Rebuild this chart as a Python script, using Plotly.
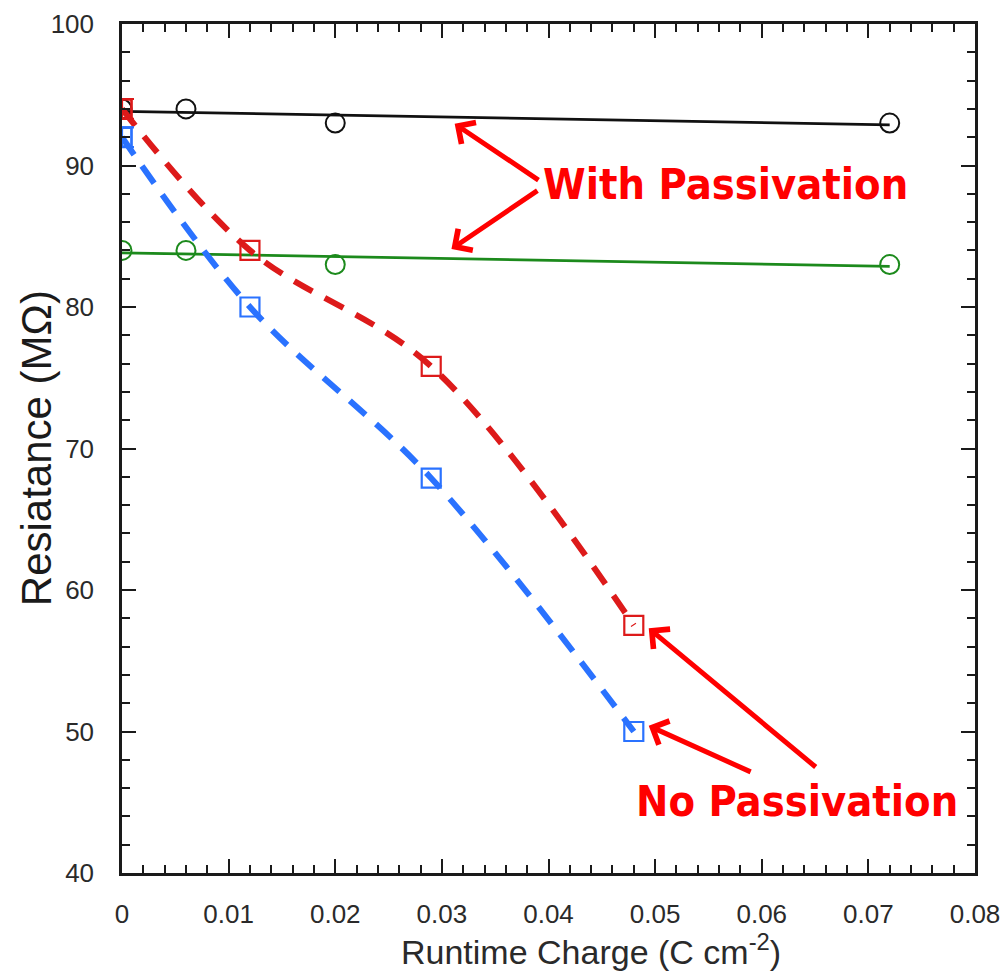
import numpy as np
import plotly.graph_objects as go

# Runtime charge (C cm^-2) and resistance (MOhm) for each sample set
x_with_black = [0.0, 0.006, 0.020, 0.072]
r_with_black = [94.0, 94.0, 93.0, 93.0]

x_with_green = [0.0, 0.006, 0.020, 0.072]
r_with_green = [84.0, 84.0, 83.0, 83.0]

x_no_red = [0.0, 0.012, 0.029, 0.048]
r_no_red = [94.0, 84.0, 75.8, 57.5]

x_no_blue = [0.0, 0.012, 0.029, 0.048]
r_no_blue = [92.0, 80.0, 67.9, 50.0]

# uncertainty on the initial (uncharged) reading of the unpassivated samples
err_start_red = 0.7
err_start_blue = 0.7

x_ticks = [0, 0.01, 0.02, 0.03, 0.04, 0.05, 0.06, 0.07, 0.08]
y_ticks = [40, 50, 60, 70, 80, 90, 100]

BLACK = "#111111"
GREEN = "#1c8a1c"
RED = "#dd1a1a"
BLUE = "#2a72ff"
NOTE = "#ff0000"
AXIS_FONT = "Liberation Sans, Arial, Helvetica, sans-serif"
NOTE_FONT = "DejaVu Sans Condensed, DejaVu Sans, Verdana, sans-serif"

fig = go.Figure()


def linear_fit(xs, ys):
    slope, intercept = np.polyfit(xs, ys, 1)
    xf = [min(xs), max(xs)]
    return xf, [intercept + slope * v for v in xf]


# Passivated samples: least-squares lines with open circles
for xs, ys, col in [(x_with_black, r_with_black, BLACK), (x_with_green, r_with_green, GREEN)]:
    xf, yf = linear_fit(xs, ys)
    fig.add_trace(go.Scatter(x=xf, y=yf, mode="lines",
                             line=dict(color=col, width=2.8), showlegend=False, hoverinfo="skip"))
    fig.add_trace(go.Scatter(x=xs, y=ys, mode="markers",
                             marker=dict(symbol="circle-open", size=19, color=col, line=dict(width=2)),
                             showlegend=False))

# Unpassivated samples: dashed guide curves with open squares
for xs, ys, err, col in [(x_no_red, r_no_red, err_start_red, RED),
                         (x_no_blue, r_no_blue, err_start_blue, BLUE)]:
    fig.add_trace(go.Scatter(x=xs, y=ys, mode="lines",
                             line=dict(color=col, width=6, dash="21px,14px", shape="spline", smoothing=1.0),
                             showlegend=False, hoverinfo="skip"))
    fig.add_trace(go.Scatter(x=xs, y=ys, mode="markers",
                             marker=dict(symbol="square-open", size=19, color=col, line=dict(width=2.2)),
                             showlegend=False))
    # error bar on the starting point only
    fig.add_trace(go.Scatter(x=xs[:1], y=ys[:1], mode="markers",
                             marker=dict(symbol="square-open", size=19, color=col, line=dict(width=2.2)),
                             error_y=dict(type="constant", value=err, visible=True, color=col,
                                          thickness=2.2, width=12),
                             showlegend=False))

axis_common = dict(
    showline=True, linecolor="#1a1a1a", linewidth=2.5, mirror="ticks",
    ticks="inside", ticklen=14, tickwidth=2.2, tickcolor="#1a1a1a",
    showgrid=False, zeroline=False, automargin=False,
    tickfont=dict(family=AXIS_FONT, size=26, color="#2a2a2a"),
)

fig.update_xaxes(range=[0, 0.08], tickvals=x_ticks, ticktext=[f"{v:g}" for v in x_ticks],
                 minor=dict(dtick=0.002, ticks="inside", ticklen=8, tickwidth=2, tickcolor="#1a1a1a"),
                 ticklabelstandoff=16, **axis_common)
fig.update_yaxes(range=[40, 100], tickvals=y_ticks,
                 minor=dict(dtick=2, ticks="inside", ticklen=8, tickwidth=2, tickcolor="#1a1a1a"),
                 ticklabelstandoff=20, **axis_common)

annotations = [
    # axis titles
    dict(text="Runtime Charge (C cm<sup>-2</sup>)", xref="paper", yref="paper", x=0.55, y=-0.09,
         xanchor="center", yanchor="middle", showarrow=False,
         font=dict(family=AXIS_FONT, size=34, color="#2a2a2a")),
    dict(text="Resiatance (MΩ)", xref="paper", yref="paper", x=-0.1, y=0.5, textangle=-90,
         xanchor="center", yanchor="middle", showarrow=False,
         font=dict(family=AXIS_FONT, size=42, color="#1a1a1a")),
    # labels
    dict(text="<b>With Passivation</b>", xref="x", yref="y", x=0.0566, y=88.7,
         xanchor="center", yanchor="middle", showarrow=False,
         font=dict(family=NOTE_FONT, size=43, color=NOTE)),
    dict(text="<b>No Passivation</b>", xref="x", yref="y", x=0.0633, y=45.1,
         xanchor="center", yanchor="middle", showarrow=False,
         font=dict(family=NOTE_FONT, size=43, color=NOTE)),
]

# arrows: (head x, head y, tail x, tail y)
arrows = [
    (0.0312, 92.95, 0.0392, 88.9),
    (0.0309, 84.1, 0.0391, 88.3),
    (0.0494, 57.3, 0.0652, 47.4),
    (0.0494, 50.4, 0.0591, 47.1),
]
for hx, hy, tx, ty in arrows:
    annotations.append(dict(x=hx, y=hy, ax=tx, ay=ty, xref="x", yref="y", axref="x", ayref="y",
                            text="", showarrow=True, arrowhead=4, arrowsize=1.0, arrowwidth=5,
                            arrowcolor=NOTE, standoff=0))

fig.update_layout(
    width=1007, height=975,
    margin=dict(l=122, r=32, t=24, b=102),
    plot_bgcolor="white", paper_bgcolor="white",
    annotations=annotations,
    showlegend=False,
)

fig.write_html("out.html")
